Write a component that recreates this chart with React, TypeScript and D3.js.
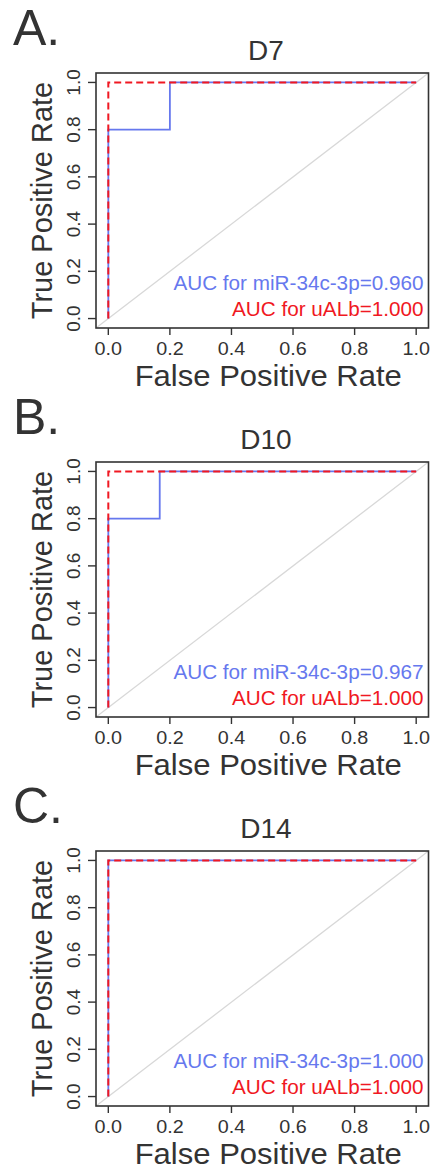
import * as d3 from "d3";

// panels
const panelLetters = ["A.", "B.", "C."];
const panelTitles = ["D7", "D10", "D14"];

// ROC points, miR-34c-3p (blue, solid)
const mirFpr = [
  [0, 0, 0.2, 0.2, 1],
  [0, 0, 0.167, 0.167, 1],
  [0, 0, 1],
];
const mirTpr = [
  [0, 0.8, 0.8, 1, 1],
  [0, 0.8, 0.8, 1, 1],
  [0, 1, 1],
];

// ROC points, uALb (red, dashed)
const albFpr = [
  [0, 0, 1],
  [0, 0, 1],
  [0, 0, 1],
];
const albTpr = [
  [0, 1, 1],
  [0, 1, 1],
  [0, 1, 1],
];

const mirAuc = ["0.960", "0.967", "1.000"];
const albAuc = ["1.000", "1.000", "1.000"];

const tickValues = [0, 0.2, 0.4, 0.6, 0.8, 1.0];

const W = 432;
const H = 1170;
const panelStep = 389;
const box = { left: 96, right: 428.5, top: 73, bottom: 328 };
const font = "'Liberation Sans', Arial, Helvetica, sans-serif";
const ink = "#333333";
const blue = "#6678ee";
const red = "#f01822";

function RocPanel({ i }: { i: number }) {
  const x = d3.scaleLinear().domain([-0.04, 1.04]).range([box.left, box.right]);
  const y = d3.scaleLinear().domain([-0.04, 1.04]).range([box.bottom, box.top]);

  const line = d3
    .line<[number, number]>()
    .x((d) => x(d[0]))
    .y((d) => y(d[1]));

  const mirPts = mirFpr[i].map((f, k) => [f, mirTpr[i][k]] as [number, number]);
  const albPts = albFpr[i].map((f, k) => [f, albTpr[i][k]] as [number, number]);
  const cx = (box.left + box.right) / 2;
  const cy = (box.top + box.bottom) / 2;

  return (
    <g transform={`translate(0,${i * panelStep})`}>
      <text x={13} y={45} fontSize={50} fill={ink} fontFamily={font}>
        {panelLetters[i]}
      </text>
      <text x={266} y={60} fontSize={28} fill={ink} textAnchor="middle" fontFamily={font}>
        {panelTitles[i]}
      </text>

      {/* diagonal reference */}
      <line
        x1={box.left}
        y1={box.bottom}
        x2={box.right}
        y2={box.top}
        stroke="#d8d8d8"
        strokeWidth={1.3}
      />

      <path d={line(mirPts) || ""} fill="none" stroke={blue} strokeWidth={1.8} />
      <path
        d={line(albPts) || ""}
        fill="none"
        stroke={red}
        strokeWidth={2}
        strokeDasharray="7,4"
      />

      <rect
        x={box.left}
        y={box.top}
        width={box.right - box.left}
        height={box.bottom - box.top}
        fill="none"
        stroke={ink}
        strokeWidth={1.6}
      />

      {/* x axis */}
      {tickValues.map((t) => (
        <g key={"x" + t}>
          <line x1={x(t)} x2={x(t)} y1={box.bottom} y2={box.bottom + 7} stroke={ink} strokeWidth={1.4} />
          <text
            transform={`translate(${x(t)},${box.bottom + 26.5}) scale(1.04,1)`}
            fontSize={19}
            fill={ink}
            textAnchor="middle"
            fontFamily={font}
          >
            {t.toFixed(1)}
          </text>
        </g>
      ))}

      {/* y axis */}
      {tickValues.map((t) => (
        <g key={"y" + t}>
          <line x1={box.left - 8} x2={box.left} y1={y(t)} y2={y(t)} stroke={ink} strokeWidth={1.4} />
          <text
            transform={`translate(${box.left - 16},${y(t)}) rotate(-90)`}
            fontSize={19}
            fill={ink}
            textAnchor="middle"
            fontFamily={font}
          >
            {t.toFixed(1)}
          </text>
        </g>
      ))}

      <text
        transform={`translate(${cx + 6},${box.bottom + 57.5}) scale(1.07,1)`}
        fontSize={29}
        fill={ink}
        textAnchor="middle"
        fontFamily={font}
      >
        False Positive Rate
      </text>
      <text
        transform={`translate(52,${cy}) rotate(-90)`}
        fontSize={29}
        fill={ink}
        textAnchor="middle"
        fontFamily={font}
      >
        True Positive Rate
      </text>

      <text
        x={box.right - 5}
        y={box.bottom - 38}
        fontSize={20.7}
        fill={blue}
        textAnchor="end"
        fontFamily={font}
      >
        {`AUC for miR-34c-3p=${mirAuc[i]}`}
      </text>
      <text
        x={box.right - 5}
        y={box.bottom - 12}
        fontSize={20.7}
        fill={red}
        textAnchor="end"
        fontFamily={font}
      >
        {`AUC for uALb=${albAuc[i]}`}
      </text>
    </g>
  );
}

export default function App() {
  return (
    <svg
      width={W}
      height={H}
      viewBox={`0 0 ${W} ${H}`}
      style={{ position: "absolute", left: 0, top: 0, background: "#fff" }}
    >
      <rect width={W} height={H} fill="#fff" />
      {panelTitles.map((_, i) => (
        <RocPanel key={i} i={i} />
      ))}
    </svg>
  );
}
